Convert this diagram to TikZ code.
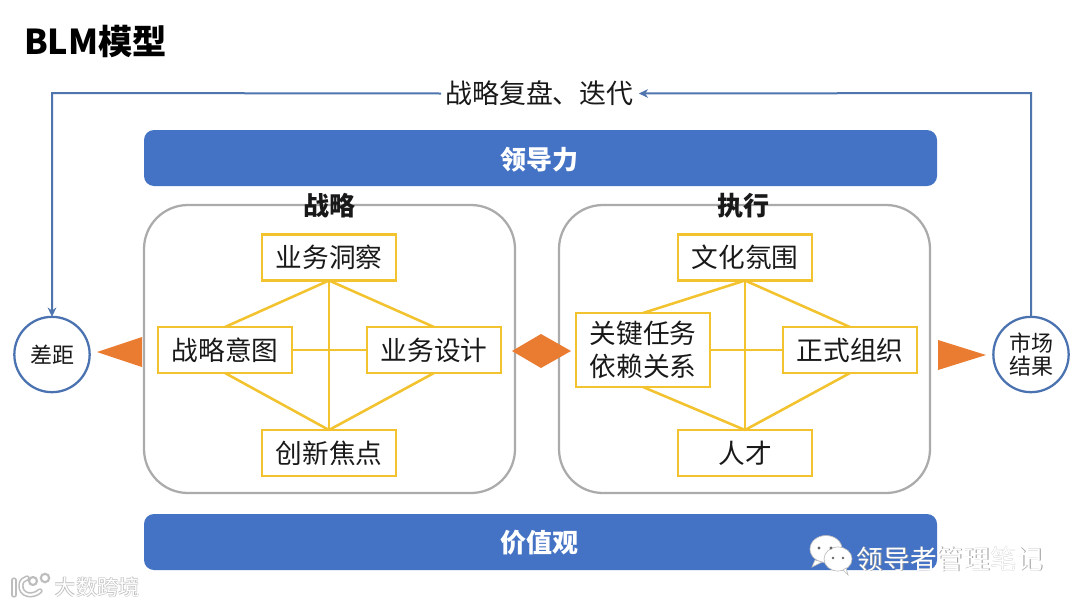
\documentclass[tikz,border=0pt]{standalone}
\usepackage{fontspec}
\setmainfont{Noto Sans CJK SC}
\usetikzlibrary{arrows.meta,calc}
\definecolor{barblue}{HTML}{4472C4}
\definecolor{lineblue}{HTML}{4F75AE}
\definecolor{ringblue}{HTML}{4A72B0}
\definecolor{gold}{HTML}{F2C32E}
\definecolor{tiporange}{HTML}{E97C30}
\definecolor{framegray}{HTML}{ABABAB}
\definecolor{marktext}{HTML}{BDBDBD}
\tikzset{
  x=0.75pt,y=-0.75pt,
  every node/.style={inner sep=0pt,outer sep=0pt,text=black!90},
  bar/.style={fill=barblue,rounded corners=7.5pt,draw=none},
  bartext/.style={text=white,font=\fontsize{19.5}{22}\selectfont\bfseries},
  frame/.style={draw=framegray,line width=1.7pt,rounded corners=33pt},
  headtext/.style={font=\fontsize{19.5}{22}\selectfont\bfseries},
  topic/.style={draw=gold,line width=2.1pt,fill=white,minimum width=100.5pt,minimum height=34.5pt,align=center,font=\fontsize{20}{25}\selectfont},
  link/.style={draw=gold,line width=1.9pt},
  ring/.style={circle,draw=ringblue,line width=1.7pt,fill=white,minimum size=56.5pt,align=center,font=\fontsize{16.5}{20}\selectfont},
  flow/.style={draw=lineblue,line width=1.5pt,-{Stealth[length=7pt,width=6.5pt]}},
  tip/.style={fill=tiporange,draw=none},
  brandtext/.style={text=white,font=\fontsize{20}{22}\selectfont},
}
\begin{document}
\begin{tikzpicture}
\useasboundingbox (0,0) rectangle (1080,607);
\fill[white] (0,0) rectangle (1080,607);

\node[anchor=west,text=black,font=\fontsize{25.7}{28}\selectfont\bfseries] (title) at (24,41) {BLM模型};

% feedback loop
\node[font=\fontsize{20.2}{24}\selectfont] (loop) at (539.5,93.5) {战略复盘、迭代};
\node[ring] (gap) at (52,354.5) {差距};
\node[ring] (market) at (1031,354.5) {市场\\[-3pt]结果};
\coordinate (cornerR) at (1031,93);
\coordinate (cornerL) at (52,93);
\draw[flow] (market.north) -- (cornerR) -- ($(loop.east)+(5,0)$);
\draw[flow] ($(loop.west)+(-4,0)$) -- (cornerL) -- (gap.north);

% bars
\draw[bar] (144,130) rectangle (937,186);
\node[bartext] (lead) at (539,159.5) {领导力};
\draw[bar] (144,514) rectangle (937,570);
\node[bartext] (value) at (539,542.5) {价值观};

% frames
\draw[frame] (144,205) rectangle (515,493);
\draw[frame] (559,205) rectangle (930,493);
\node[headtext] (strat) at (329,206) {战略};
\node[headtext] (exec) at (743,206) {执行};

% left group
\node[topic] (insight) at (329,257.5) {业务洞察};
\node[topic] (intent) at (225,350) {战略意图};
\node[topic] (design) at (434,350) {业务设计};
\node[topic] (focus) at (329,453) {创新焦点};
\draw[link] (insight.south) -- (focus.north);
\draw[link] (intent.east) -- (design.west);
\draw[link] (insight.south) -- (intent.north);
\draw[link] (insight.south) -- (design.north);
\draw[link] (focus.north) -- (intent.south);
\draw[link] (focus.north) -- (design.south);

% right group
\node[topic] (culture) at (745,257.5) {文化氛围};
\node[topic,minimum height=55.5pt] (tasks) at (643,350) {关键任务\\依赖关系};
\node[topic] (org) at (850,350) {正式组织};
\node[topic] (talent) at (745,453) {人才};
\draw[link] (culture.south) -- (talent.north);
\draw[link] (tasks.east) -- (org.west);
\draw[link] (culture.south) -- (tasks.north);
\draw[link] (culture.south) -- (org.north);
\draw[link] (talent.north) -- (tasks.south);
\draw[link] (talent.north) -- (org.south);

% orange markers
\fill[tip] (97,352) -- (142,337) -- (142,367) -- cycle;
\fill[tip] (938,340) -- (986,355) -- (938,370) -- cycle;
\fill[tip] (512,351) -- (541,334) -- (571,351) -- (541,368) -- cycle;

% watermark right
\fill[white,draw=marktext,line width=.5pt] (826,549) ellipse (16 and 13.5);
\fill[white,draw=marktext,line width=.5pt] (815,560) -- (812,567) -- (822,562) -- cycle;
\fill[white,draw=marktext,line width=.5pt] (838,559) ellipse (14 and 12);
\fill[white,draw=marktext,line width=.5pt] (843,570) -- (848,575) -- (846,568) -- cycle;
\fill[black!60] (819,548) circle (1.6) (831,548) circle (1.6) (833,558) circle (1.4) (843,558) circle (1.4);
\node[brandtext,text=black!40] (brandshadow) at (950.8,559.8) {领导者管理笔记};
\node[brandtext] (brand) at (950,559) {领导者管理笔记};

% watermark left
\draw[marktext,line width=4pt,line cap=round] (14,580) -- (14,595);
\draw[marktext,line width=4pt,line cap=round] (40,591) .. controls (32,598) and (20,595) .. (21,585) .. controls (21,581) and (24,579) .. (27,578);
\draw[marktext,line width=1.6pt] (33,581) circle (4) (45,578) circle (4.2);
\draw[white,line width=1.6pt,line cap=round] (14,580) -- (14,595);
\draw[white,line width=1.6pt,line cap=round] (40,591) .. controls (32,598) and (20,595) .. (21,585) .. controls (21,581) and (24,579) .. (27,578);
\node[text=marktext,font=\fontsize{16}{18}\selectfont\bfseries] (wmback) at (97.5,587) {大数跨境};
\node[text=white,font=\fontsize{16}{18}\selectfont] (wm) at (97.5,587) {大数跨境};
\end{tikzpicture}
\end{document}
